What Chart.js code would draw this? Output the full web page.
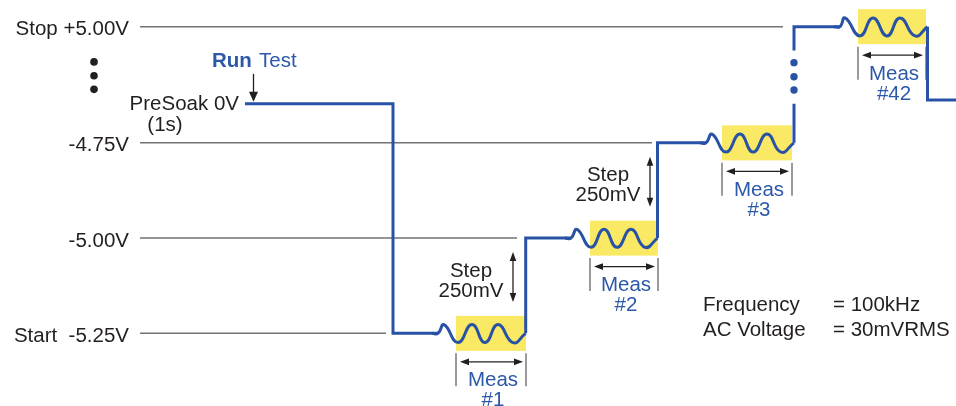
<!DOCTYPE html>
<html><head><meta charset="utf-8">
<script src="https://cdn.jsdelivr.net/npm/chart.js@4"></script>
<style>html,body{margin:0;padding:0;background:#fff;}canvas{display:block}</style>
</head><body>
<canvas id="c" width="956" height="406"></canvas>
<script>
// ---------- data ----------
const levelLabels = ['Start  -5.25V', '-5.00V', '-4.75V', 'Stop +5.00V'];
const levelValues = [0, 1, 2, 3.22];
const gridStartT = 140;
const gridEndT = [386, 517, 652, 783];

const preSoakLevel = 2.41;
const finalLevel = 2.45;

// straight staircase parts of the trace (null = gap)
const stairT = [245, 393, 393, 438, null, 525.7, 525.7, 571, null, 657.5, 657.5, 706, null, 794, 794, null, 794, 794, 840, null, 927.5, 927.5, 960];
const stairV = [2.41, 2.41, 0, 0, null, 0, 1, 1, null, 1, 2, 2, null, 2, 2.41, null, 2.97, 3.22, 3.22, null, 3.22, 2.45, 2.45];

const meas1T = [432, 438, 444, 458, 472, 485, 498, 513, 525.7];
const meas1V = [0, 0, 0.092, -0.097, 0.092, -0.097, 0.092, -0.097, 0];
const meas2T = [565, 571, 577, 591, 604, 617, 631, 645, 657.5];
const meas2V = [1, 1, 1.092, 0.903, 1.092, 0.903, 1.092, 0.903, 1];
const meas3T = [700, 706, 712, 726, 740, 753, 767, 781, 794];
const meas3V = [2, 2, 2.092, 1.903, 2.092, 1.903, 2.092, 1.903, 2];
const meas42T = [834, 840, 845, 860, 873, 887, 900, 915, 927.5];
const meas42V = [3.22, 3.22, 3.312, 3.123, 3.312, 3.123, 3.312, 3.123, 3.22];

const measNames = ['#1', '#2', '#3', '#42'];
const measFrom = [456, 590, 722, 858];
const measTo = [526, 658, 792, 926];
const measLevel = [0, 1, 2, 3.22];

const stepLowLevel = [0, 1];
const stepArrowT = [513, 650];
const stepText = ['Step', '250mV'];

const leftDotsT = [94, 94, 94];
const leftDotsV = [2.85, 2.705, 2.562];
const traceDotsT = [794, 794, 794];
const traceDotsV = [2.842, 2.695, 2.555];

const infoNames = ['Frequency', 'AC Voltage'];
const infoValues = ['= 100kHz', '= 30mVRMS'];

// ---------- styles ----------
const BLUE_LINE = 'rgb(40,82,166)';
const BLUE_TEXT = 'rgb(44,88,170)';
const BLACK = '#231f20';
const GRID = '#737373';
const TICKGRAY = '#7a7a7a';
const YELLOW = 'rgb(250,233,100)';
const FONT = '"Liberation Sans", Arial, Helvetica, sans-serif';
const FS = 20.5;

const pts = (xs, ys) => xs.map((x, i) => ({x: x, y: ys[i]}));

const gridPts = [];
levelValues.forEach((v, i) => {
  gridPts.push({x: gridStartT, y: v}, {x: gridEndT[i], y: v}, {x: gridEndT[i], y: null});
});

const waveDS = (xs, ys) => ({
  data: pts(xs, ys), borderColor: BLUE_LINE, borderWidth: 3, pointRadius: 0,
  tension: 0.5, fill: false, order: 1
});

function arrowHead(ctx, x, y, dx, dy, len, hw) {
  ctx.beginPath();
  ctx.moveTo(x, y);
  ctx.lineTo(x - dx * len - dy * hw, y - dy * len + dx * hw);
  ctx.lineTo(x - dx * len + dy * hw, y - dy * len - dx * hw);
  ctx.closePath();
  ctx.fill();
}
function dblArrow(ctx, x1, y1, x2, y2) {
  const L = Math.hypot(x2 - x1, y2 - y1), dx = (x2 - x1) / L, dy = (y2 - y1) / L;
  const len = 9, hw = 3.3;
  ctx.strokeStyle = BLACK; ctx.fillStyle = BLACK; ctx.lineWidth = 1.3;
  ctx.beginPath();
  ctx.moveTo(x1 + dx * (len - 2), y1 + dy * (len - 2));
  ctx.lineTo(x2 - dx * (len - 2), y2 - dy * (len - 2));
  ctx.stroke();
  arrowHead(ctx, x2, y2, dx, dy, len, hw);
  arrowHead(ctx, x1, y1, -dx, -dy, len, hw);
}

const diagram = {
  id: 'diagram',
  beforeDatasetsDraw(chart) {
    const ctx = chart.ctx, xs = chart.scales.x, ys = chart.scales.y;
    ctx.save();
    measFrom.forEach((t, i) => {
      const x1 = xs.getPixelForValue(t), x2 = xs.getPixelForValue(measTo[i]);
      const py = ys.getPixelForValue(measLevel[i]);
      ctx.fillStyle = YELLOW;
      ctx.fillRect(x1, py - 17.5, x2 - x1, 35);
      ctx.strokeStyle = TICKGRAY; ctx.lineWidth = 1.5;
      ctx.beginPath();
      ctx.moveTo(x1, py + 20); ctx.lineTo(x1, py + 53);
      ctx.moveTo(x2, py + 20); ctx.lineTo(x2, py + 53);
      ctx.stroke();
    });
    ctx.restore();
  },
  afterDatasetsDraw(chart) {
    const ctx = chart.ctx, xs = chart.scales.x, ys = chart.scales.y;
    ctx.save();
    ctx.font = FS + 'px ' + FONT;
    ctx.textBaseline = 'alphabetic';
    // level labels
    ctx.fillStyle = BLACK; ctx.textAlign = 'right';
    levelValues.forEach((v, i) => {
      ctx.fillText(levelLabels[i], xs.getPixelForValue(gridStartT) - 11, ys.getPixelForValue(v) + 8.5);
    });
    // PreSoak
    const psx = xs.getPixelForValue(stairT[0]), psy = ys.getPixelForValue(preSoakLevel);
    ctx.fillText('PreSoak 0V', psx - 6, psy + 6.5);
    ctx.textAlign = 'center';
    ctx.fillText('(1s)', psx - 80, psy + 27);
    // Run Test
    const ax = psx + 8.5;
    ctx.font = 'bold ' + FS + 'px ' + FONT;
    const wRun = ctx.measureText('Run ').width;
    ctx.font = FS + 'px ' + FONT;
    const wTest = ctx.measureText('Test').width;
    const left = ax - (wRun + wTest) / 2;
    ctx.textAlign = 'left'; ctx.fillStyle = BLUE_TEXT;
    ctx.font = 'bold ' + FS + 'px ' + FONT;
    ctx.fillText('Run', left, psy - 37);
    ctx.font = FS + 'px ' + FONT;
    ctx.fillText('Test', left + wRun + 1.5, psy - 37);
    ctx.strokeStyle = BLACK; ctx.fillStyle = BLACK; ctx.lineWidth = 1.3;
    ctx.beginPath(); ctx.moveTo(ax, psy - 30); ctx.lineTo(ax, psy - 8); ctx.stroke();
    arrowHead(ctx, ax, psy - 2, 0, 1, 10, 4.5);
    // step annotations
    stepLowLevel.forEach((lv, i) => {
      const up = ys.getPixelForValue(lv + 1);
      const sx = xs.getPixelForValue(stepArrowT[i]);
      dblArrow(ctx, sx, up + 14, sx, up + 64);
      ctx.fillStyle = BLACK; ctx.textAlign = 'center'; ctx.font = FS + 'px ' + FONT;
      ctx.fillText(stepText[0], sx - 42, up + 38.5);
      ctx.fillText(stepText[1], sx - 42, up + 58.5);
    });
    // measurement labels
    measFrom.forEach((t, i) => {
      const x1 = xs.getPixelForValue(t), x2 = xs.getPixelForValue(measTo[i]);
      const py = ys.getPixelForValue(measLevel[i]);
      dblArrow(ctx, x1 + 4, py + 28.5, x2 - 3, py + 28.5);
      ctx.fillStyle = BLUE_TEXT; ctx.textAlign = 'center'; ctx.font = FS + 'px ' + FONT;
      const cx = (x1 + x2) / 2 + 2;
      ctx.fillText('Meas', cx, py + 53);
      ctx.fillText(measNames[i], cx, py + 73);
    });
    // info text
    ctx.fillStyle = BLACK; ctx.textAlign = 'left'; ctx.font = FS + 'px ' + FONT;
    const ca = chart.chartArea;
    infoNames.forEach((n, i) => {
      ctx.fillText(n, ca.left + 703, ca.top + 310.5 + i * 25);
      ctx.fillText(infoValues[i], ca.left + 833, ca.top + 310.5 + i * 25);
    });
    ctx.restore();
  }
};

new Chart(document.getElementById('c'), {
  type: 'line',
  data: {
    datasets: [
      { data: gridPts, borderColor: GRID, borderWidth: 1.5, pointRadius: 0, spanGaps: false, order: 5 },
      { data: pts(stairT, stairV), borderColor: BLUE_LINE, borderWidth: 3, pointRadius: 0, spanGaps: false,
        borderJoinStyle: 'miter', borderCapStyle: 'butt', order: 1 },
      waveDS(meas1T, meas1V),
      waveDS(meas2T, meas2V),
      waveDS(meas3T, meas3V),
      waveDS(meas42T, meas42V),
      { data: pts(leftDotsT, leftDotsV), showLine: false, pointRadius: 3.8, pointBorderWidth: 0,
        pointBackgroundColor: BLACK, pointBorderColor: BLACK, order: 0 },
      { data: pts(traceDotsT, traceDotsV), showLine: false, pointRadius: 3.7, pointBorderWidth: 0,
        pointBackgroundColor: BLUE_LINE, pointBorderColor: BLUE_LINE, order: 0 }
    ]
  },
  options: {
    responsive: false,
    animation: false,
    devicePixelRatio: 1,
    layout: { padding: 0, autoPadding: false },
    plugins: { legend: { display: false }, tooltip: { enabled: false } },
    events: [],
    scales: {
      x: { type: 'linear', min: 0, max: 956, display: false },
      y: { type: 'linear', min: -0.7625, max: 3.5, display: false }
    }
  },
  plugins: [diagram]
});
</script>
</body></html>
